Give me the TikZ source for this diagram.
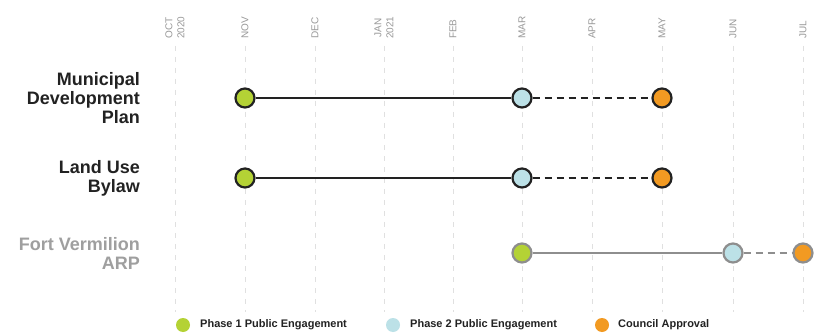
\documentclass[tikz,border=0pt]{standalone}
\usepackage{fontspec}
\setmainfont{Liberation Sans}

\definecolor{phaseone}{HTML}{B4D235}
\definecolor{phasetwo}{HTML}{BCE1E7}
\definecolor{approval}{HTML}{F29A22}
\definecolor{ink}{HTML}{222222}
\definecolor{faded}{HTML}{8E8E8E}
\definecolor{gridgray}{HTML}{E0E0E0}

\tikzset{
  month/.style={rotate=90, anchor=west, align=center, text=black!40, inner sep=0pt,
    font=\fontsize{10}{12}\selectfont},
  gridline/.style={gridgray, dash pattern=on 5pt off 6pt, line width=0.8pt},
  project/.style={anchor=east, align=right, text=ink, inner sep=0pt,
    font=\fontsize{18}{19}\selectfont\bfseries},
  milestone/.style={circle, draw=ink, line width=2.2pt, minimum size=19pt, inner sep=0pt},
  link/.style={ink, line width=2pt},
  legenddot/.style={circle, minimum size=14pt, inner sep=0pt},
  legendtext/.style={anchor=west, text=ink, inner sep=0pt,
    font=\fontsize{11}{12}\selectfont\bfseries},
}

\begin{document}
\begin{tikzpicture}[x=1pt, y=-1pt]
    \useasboundingbox[fill=white] (0,0) rectangle (824,334);

    %% Months

    % Grid
    \foreach \x in {175,245,315,384,453,522,592,662,733,803}
        \draw[gridline] (\x,46) -- (\x,312);

    % Month names
    \node[month] (oct) at (175,39) {OCT\\2020};
    \node[month] (nov) at (245,39) {NOV};
    \node[month] (dec) at (315,39) {DEC};
    \node[month] (jan) at (384,39) {JAN\\2021};
    \node[month] (feb) at (453,39) {FEB};
    \node[month] (mar) at (522,39) {MAR};
    \node[month] (apr) at (592,39) {APR};
    \node[month] (may) at (662,39) {MAY};
    \node[month] (jun) at (733,39) {JUN};
    \node[month] (jul) at (803,39) {JUL};

    %% Projects

    % Municipal Development Plan
    \node[project] (mdp) at (140,98) {Municipal\\Development\\Plan};
    \node[milestone, fill=phaseone] (mdp1) at (245,98) {};
    \node[milestone, fill=phasetwo] (mdp2) at (522,98) {};
    \node[milestone, fill=approval] (mdp3) at (662,98) {};
    \draw[link] (mdp1) -- (mdp2);
    \draw[link, dash pattern=on 7pt off 5pt] (mdp2) -- (mdp3);

    % Land Use Bylaw
    \node[project] (lub) at (140,178) {Land Use\\Bylaw};
    \node[milestone, fill=phaseone] (lub1) at (245,178) {};
    \node[milestone, fill=phasetwo] (lub2) at (522,178) {};
    \node[milestone, fill=approval] (lub3) at (662,178) {};
    \draw[link] (lub1) -- (lub2);
    \draw[link, dash pattern=on 7pt off 5pt] (lub2) -- (lub3);

    % Fort Vermilion ARP
    \node[project, text=faded!85] (arp) at (140,253) {Fort Vermilion\\ARP};
    \node[milestone, draw=faded, fill=phaseone] (arp1) at (522,253) {};
    \node[milestone, draw=faded, fill=phasetwo] (arp2) at (733,253) {};
    \node[milestone, draw=faded, fill=approval] (arp3) at (803,253) {};
    \draw[link, faded] (arp1) -- (arp2);
    \draw[link, faded, dash pattern=on 7pt off 5pt] (arp2) -- (arp3);

    %% Legend
    \node[legenddot, fill=phaseone] (key1) at (183,325) {};
    \node[legendtext] at (200,325) {Phase 1 Public Engagement};
    \node[legenddot, fill=phasetwo] (key2) at (393,325) {};
    \node[legendtext] at (410,325) {Phase 2 Public Engagement};
    \node[legenddot, fill=approval] (key3) at (602,325) {};
    \node[legendtext] at (618,325) {Council Approval};

\end{tikzpicture}
\end{document}
